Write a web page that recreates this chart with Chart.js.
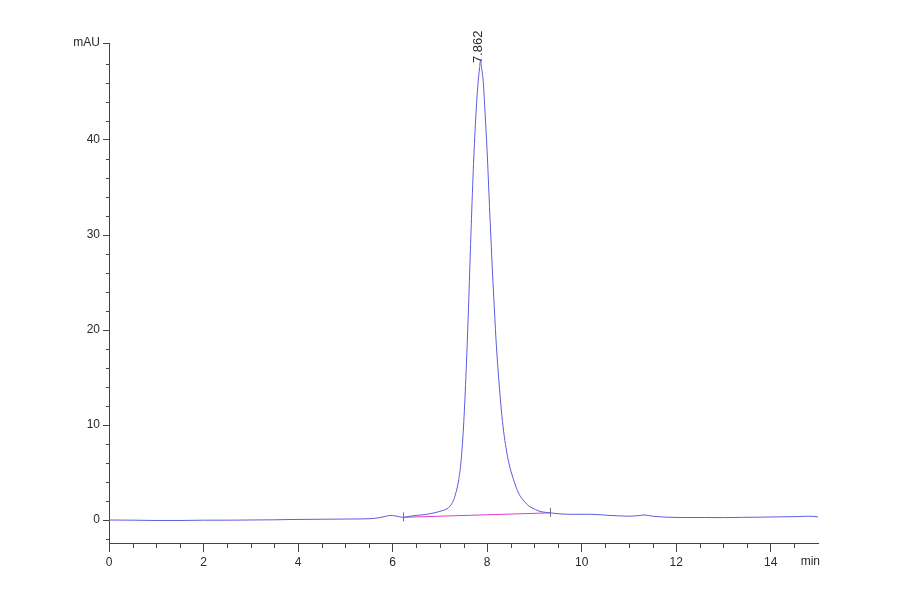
<!DOCTYPE html>
<html>
<head>
<meta charset="utf-8">
<script src="https://cdn.jsdelivr.net/npm/chart.js@4"></script>
<style>
  html, body { margin: 0; padding: 0; background: #fff; }
  #wrap { width: 900px; height: 594px; }
</style>
</head>
<body>
<div id="wrap"><canvas id="chrom" width="900" height="594"></canvas></div>
<script>
// retention time (min) and detector signal (mAU)
var times = [0, 0.5, 1, 1.5, 2, 2.5, 3, 3.5, 4, 4.5, 5, 5.5, 5.7, 5.85, 5.95, 6.05, 6.15, 6.21, 6.35, 6.5, 6.7, 6.9,
  7.05, 7.15, 7.22, 7.28, 7.34, 7.4, 7.45, 7.5, 7.55, 7.6, 7.65, 7.7, 7.75, 7.8, 7.84, 7.862, 7.88, 7.92, 7.96,
  8.0, 8.05, 8.1, 8.15, 8.2, 8.25, 8.3, 8.35, 8.4, 8.46, 8.55, 8.67, 8.75, 8.88, 8.95, 9.1, 9.24, 9.34, 9.5, 9.8,
  10.2, 10.6, 11.0, 11.2, 11.32, 11.5, 11.8, 12.2, 12.6, 13.0, 13.4, 13.8, 14.2, 14.6, 14.8, 15];
var signal = [0.02, 0.0, -0.03, -0.03, 0.0, 0.0, 0.02, 0.04, 0.08, 0.1, 0.12, 0.15, 0.25, 0.4, 0.5, 0.45, 0.35, 0.3, 0.4, 0.5, 0.6, 0.8,
  1.0, 1.2, 1.5, 2.0, 2.9, 4.3, 6.3, 9.8, 15.0, 21.5, 29.0, 36.0, 41.5, 45.5, 47.6, 48.4, 47.7, 46.0, 42.5,
  38.8, 33.0, 27.5, 22.5, 18.0, 14.6, 11.6, 9.3, 7.6, 6.0, 4.4, 2.8, 2.2, 1.5, 1.3, 0.95, 0.82, 0.77, 0.68, 0.62,
  0.62, 0.5, 0.42, 0.48, 0.55, 0.42, 0.32, 0.28, 0.28, 0.27, 0.3, 0.32, 0.35, 0.38, 0.42, 0.35];

// integration baseline under the peak
var baseTimes = [6.21, 9.34];
var baseValues = [0.3, 0.77];

var peakTime = 7.862;
var peakHeight = 48.4;
var peakLabel = '7.862';

var xMajorTicks = [0, 2, 4, 6, 8, 10, 12, 14];
var yMajorTicks = [0, 10, 20, 30, 40];
var xUnit = 'min';
var yUnit = 'mAU';

var xMin = 0, xMax = 15, yMin = -2.4, yMax = 50.2;

function pts(xs, ys) {
  return xs.map(function (x, i) { return { x: x, y: ys[i] }; });
}

var axisColor = '#444';
var textColor = '#2a2a2a';
var fontFam = '"Liberation Sans", Arial, sans-serif';

// minor ticks, baseline markers, peak label and "min" unit
var decor = {
  id: 'decor',
  afterDraw: function (chart) {
    var c = chart.ctx, xs = chart.scales.x, ys = chart.scales.y, a = chart.chartArea;
    c.save();
    c.strokeStyle = axisColor;
    c.lineWidth = 1;
    c.beginPath();
    for (var t = 0.5; t < xMax; t += 0.5) {
      if (t % 2 === 0) continue;
      var px = Math.round(xs.getPixelForValue(t)) + 0.5;
      c.moveTo(px, a.bottom);
      c.lineTo(px, a.bottom + 5);
    }
    for (var v = -2; v < yMax; v += 2) {
      if (v % 10 === 0) continue;
      var py = Math.round(ys.getPixelForValue(v)) + 0.5;
      c.moveTo(a.left - 3, py);
      c.lineTo(a.left, py);
    }
    c.stroke();

    // integration start/end markers
    c.strokeStyle = '#777';
    c.beginPath();
    baseTimes.forEach(function (t, i) {
      var px = Math.round(xs.getPixelForValue(t)) + 0.5;
      var py = ys.getPixelForValue(baseValues[i]);
      c.moveTo(px, py - 5);
      c.lineTo(px, py + 4);
    });
    c.stroke();

    // peak retention time, rotated
    c.fillStyle = textColor;
    c.font = '13px ' + fontFam;
    c.translate(xs.getPixelForValue(peakTime) - 2, ys.getPixelForValue(peakHeight) + 3);
    c.rotate(-Math.PI / 2);
    c.textAlign = 'left';
    c.textBaseline = 'middle';
    c.fillText(peakLabel, 0, 0);
    c.restore();

    c.save();
    c.fillStyle = textColor;
    c.font = '12px ' + fontFam;
    c.textAlign = 'right';
    c.textBaseline = 'middle';
    c.fillText(xUnit, a.right + 2, a.bottom + 19);
    c.restore();
  }
};

var ctx = document.getElementById('chrom').getContext('2d');
new Chart(ctx, {
  type: 'line',
  data: {
    datasets: [{
      label: 'signal',
      data: pts(times, signal),
      borderColor: 'rgb(92,92,222)',
      borderWidth: 1,
      pointRadius: 0,
      fill: false,
      cubicInterpolationMode: 'monotone'
    }, {
      label: 'baseline',
      data: pts(baseTimes, baseValues),
      borderColor: 'rgb(222,64,200)',
      borderWidth: 1,
      pointRadius: 0,
      fill: false
    }]
  },
  options: {
    responsive: false,
    animation: false,
    layout: { padding: { left: 0, top: 43, right: 82, bottom: 0 } },
    plugins: { legend: { display: false }, tooltip: { enabled: false } },
    scales: {
      x: {
        type: 'linear',
        min: xMin,
        max: xMax,
        afterBuildTicks: function (s) {
          s.ticks = xMajorTicks.map(function (v) { return { value: v }; });
        },
        afterFit: function (s) { s.height = 51; },
        grid: { drawOnChartArea: false, tickLength: 9, tickColor: axisColor },
        border: { color: axisColor, width: 1 },
        ticks: {
          color: textColor,
          padding: 3,
          maxRotation: 0,
          autoSkip: false,
          font: { family: fontFam, size: 12 },
          callback: function (v) { return String(v); }
        }
      },
      y: {
        type: 'linear',
        min: yMin,
        max: yMax,
        afterBuildTicks: function (s) {
          s.ticks = yMajorTicks.map(function (v) { return { value: v }; });
          s.ticks.push({ value: yMax });
        },
        afterFit: function (s) { s.width = 109; },
        grid: { drawOnChartArea: false, tickLength: 6, tickColor: axisColor },
        border: { color: axisColor, width: 1 },
        ticks: {
          color: textColor,
          padding: 3,
          autoSkip: false,
          font: { family: fontFam, size: 12 },
          callback: function (v) { return v === yMax ? yUnit : String(v); }
        }
      }
    }
  },
  plugins: [decor]
});
</script>
</body>
</html>
